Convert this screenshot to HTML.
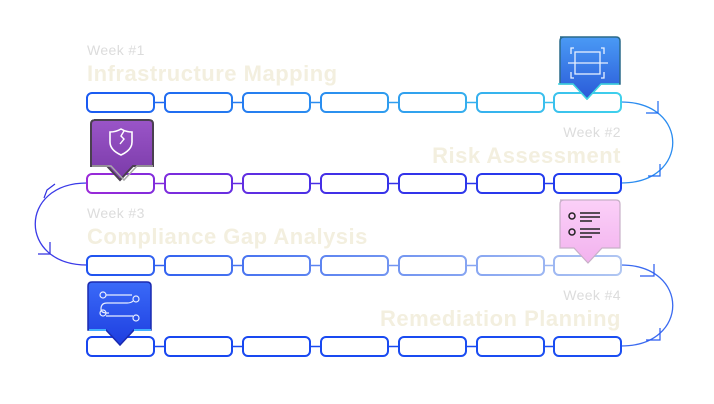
<!DOCTYPE html>
<html><head><meta charset="utf-8"><style>
html,body{margin:0;padding:0;background:#fff;}
svg{display:block;}
.wk{font-family:"Liberation Sans",sans-serif;font-size:14px;letter-spacing:0.4px;fill:#dcdcdc;}
.tt{font-family:"Liberation Sans",sans-serif;font-size:22px;font-weight:bold;letter-spacing:0.5px;fill:#f3efdf;}
</style></head><body>
<svg width="714" height="404" viewBox="0 0 714 404" xmlns="http://www.w3.org/2000/svg">
<defs>
<linearGradient id="g1" x1="87" x2="621" y1="0" y2="0" gradientUnits="userSpaceOnUse"><stop offset="0" stop-color="#1a5af2"/><stop offset="1" stop-color="#3fd0ec"/></linearGradient>
<linearGradient id="g2" x1="87" x2="621" y1="0" y2="0" gradientUnits="userSpaceOnUse"><stop offset="0" stop-color="#9a2ad8"/><stop offset="0.5" stop-color="#3a30e8"/><stop offset="1" stop-color="#1a40f0"/></linearGradient>
<linearGradient id="g3" x1="87" x2="621" y1="0" y2="0" gradientUnits="userSpaceOnUse"><stop offset="0" stop-color="#1e52f0"/><stop offset="1" stop-color="#b0c6f2"/></linearGradient>
<linearGradient id="g4" x1="87" x2="621" y1="0" y2="0" gradientUnits="userSpaceOnUse"><stop offset="0" stop-color="#1846f0"/><stop offset="1" stop-color="#1a4ef2"/></linearGradient>
<linearGradient id="mb" x1="0" y1="0" x2="0" y2="1"><stop offset="0" stop-color="#4a9af5"/><stop offset="1" stop-color="#2a5ad8"/></linearGradient>
<linearGradient id="mp" x1="0" y1="0" x2="0" y2="1"><stop offset="0" stop-color="#9a55c8"/><stop offset="1" stop-color="#7a3aa8"/></linearGradient>
<linearGradient id="mk" x1="0" y1="0" x2="0" y2="1"><stop offset="0" stop-color="#fbd0f8"/><stop offset="1" stop-color="#f2b2ee"/></linearGradient>
<linearGradient id="md" x1="0" y1="0" x2="0" y2="1"><stop offset="0" stop-color="#3a6af8"/><stop offset="1" stop-color="#1e3ee0"/></linearGradient>
</defs>

<text class="wk" x="87" y="55">Week #1</text>
<text class="tt" x="87" y="81">Infrastructure Mapping</text>
<text class="wk" x="621" y="137" text-anchor="end">Week #2</text>
<text class="tt" x="621" y="163" text-anchor="end">Risk Assessment</text>
<text class="wk" x="87" y="218">Week #3</text>
<text class="tt" x="87" y="244">Compliance Gap Analysis</text>
<text class="wk" x="621" y="300" text-anchor="end">Week #4</text>
<text class="tt" x="621" y="326" text-anchor="end">Remediation Planning</text>

<!-- connectors -->
<path d="M621 102 C690 102 690 183 621 183" fill="none" stroke="#2a8cf0" stroke-width="1.3"/>
<path d="M646 113 h12 v-12 M648 176 h12 v-12" fill="none" stroke="#1e6af0" stroke-width="1.2"/>
<path d="M87 183 C18 183 18 265 87 265" fill="none" stroke="#3a3ae8" stroke-width="1.3"/>
<path d="M55 184 l-8 6 l-3 8 M38 254 h12 v-12" fill="none" stroke="#3030e0" stroke-width="1.2"/>
<path d="M621 265 C690 265 690 346 621 346" fill="none" stroke="#3a6af0" stroke-width="1.3"/>
<path d="M640 276 h14 v-12 M646 340 h14 v-12" fill="none" stroke="#2a5af0" stroke-width="1.2"/>

<g fill="none" stroke-width="2">
<g stroke="url(#g1)">
<path d="M154 102.5h11M232 102.5h11M310 102.5h11M388 102.5h11M466 102.5h11M544 102.5h10" stroke-width="1.5"/>
<rect x="87" y="93" width="67" height="19" rx="5"/><rect x="165" y="93" width="67" height="19" rx="5"/><rect x="243" y="93" width="67" height="19" rx="5"/><rect x="321" y="93" width="67" height="19" rx="5"/><rect x="399" y="93" width="67" height="19" rx="5"/><rect x="477" y="93" width="67" height="19" rx="5"/><rect x="554" y="93" width="67" height="19" rx="5"/>
</g>
<g stroke="url(#g2)">
<path d="M154 183.5h11M232 183.5h11M310 183.5h11M388 183.5h11M466 183.5h11M544 183.5h10" stroke-width="1.5"/>
<rect x="87" y="174" width="67" height="19" rx="5"/><rect x="165" y="174" width="67" height="19" rx="5"/><rect x="243" y="174" width="67" height="19" rx="5"/><rect x="321" y="174" width="67" height="19" rx="5"/><rect x="399" y="174" width="67" height="19" rx="5"/><rect x="477" y="174" width="67" height="19" rx="5"/><rect x="554" y="174" width="67" height="19" rx="5"/>
</g>
<g stroke="url(#g3)">
<path d="M154 265.5h11M232 265.5h11M310 265.5h11M388 265.5h11M466 265.5h11M544 265.5h10" stroke-width="1.5"/>
<rect x="87" y="256" width="67" height="19" rx="5"/><rect x="165" y="256" width="67" height="19" rx="5"/><rect x="243" y="256" width="67" height="19" rx="5"/><rect x="321" y="256" width="67" height="19" rx="5"/><rect x="399" y="256" width="67" height="19" rx="5"/><rect x="477" y="256" width="67" height="19" rx="5"/><rect x="554" y="256" width="67" height="19" rx="5"/>
</g>
<g stroke="url(#g4)">
<path d="M154 346.5h11M232 346.5h11M310 346.5h11M388 346.5h11M466 346.5h11M544 346.5h10" stroke-width="1.5"/>
<rect x="87" y="337" width="67" height="19" rx="5"/><rect x="165" y="337" width="67" height="19" rx="5"/><rect x="243" y="337" width="67" height="19" rx="5"/><rect x="321" y="337" width="67" height="19" rx="5"/><rect x="399" y="337" width="67" height="19" rx="5"/><rect x="477" y="337" width="67" height="19" rx="5"/><rect x="554" y="337" width="67" height="19" rx="5"/>
</g>
</g>

<!-- marker 1 blue -->
<path d="M560 37 h56 q4 0 4 4 v43 h-19 l-14 15 l-14 -15 h-13 v-43 q0 -4 4 -4z" fill="url(#mb)" stroke="#2a6a8a" stroke-width="1.5"/>
<path d="M558 84 h15 l14 15 l14 -15 h18" fill="none" stroke="#3fd8e8" stroke-width="1.5"/>
<g fill="none" stroke="#e8f0ff" stroke-width="1.3">
<path d="M574 48 h-3 v6 M601 48 h3 v6 M574 78 h-3 v-6 M601 78 h3 v-6"/>
<rect x="575" y="52" width="25" height="22"/>
<path d="M568 63 h40"/>
</g>

<!-- marker 2 purple -->
<path d="M94 120 h55 q4 0 4 4 v42 h-20 l-13 14 l-13 -14 h-16 v-42 q0 -4 4 -4z" fill="url(#mp)" stroke="#4a4050" stroke-width="2"/>
<path d="M92 166 h19 l13 14 l13 -14 h16" fill="none" stroke="#aaa" stroke-width="1.5"/>
<path d="M110 132 q6 0 11 -3 q5 3 11 3 v10 q0 8 -11 13 q-11 -5 -11 -13z" fill="none" stroke="#fff" stroke-width="1.6"/>
<path d="M124 131 l-3 5 l3 3 l-4 5" fill="none" stroke="#fff" stroke-width="1.4"/>

<!-- marker 3 pink -->
<path d="M560 200 h56 q4 0 4 4 v44 h-18 l-14 15 l-14 -15 h-14 v-44 q0 -4 4 -4z" fill="url(#mk)" stroke="#c8b0c8" stroke-width="1.2"/>
<g fill="none" stroke="#222" stroke-width="1.5">
<circle cx="572" cy="216" r="3"/><circle cx="572" cy="232" r="3"/>
<path d="M580 213h20M580 217h20M580 221h12M580 229h20M580 233h20M580 237h12"/>
</g>

<!-- marker 4 blue -->
<path d="M92 282 h55 q4 0 4 4 v44 h-17 l-14 15 l-14 -15 h-18 v-44 q0 -4 4 -4z" fill="url(#md)" stroke="#1a2ab0" stroke-width="1.5"/>
<path d="M89 330 h17 M134 330 h17" fill="none" stroke="#40b0ff" stroke-width="2"/>
<g fill="none" stroke="#e8eeff" stroke-width="1.2">
<circle cx="103" cy="295" r="3"/><circle cx="136" cy="299" r="3"/><circle cx="103" cy="313" r="3"/><circle cx="136" cy="318" r="3"/>
<path d="M106 295 h26 M133 301 q-2 2 -6 2 h-20 q-6 0 -6 6 q0 4 6 4 M106 313 h3 M106 316 h27"/>
</g>
</svg>
</body></html>
